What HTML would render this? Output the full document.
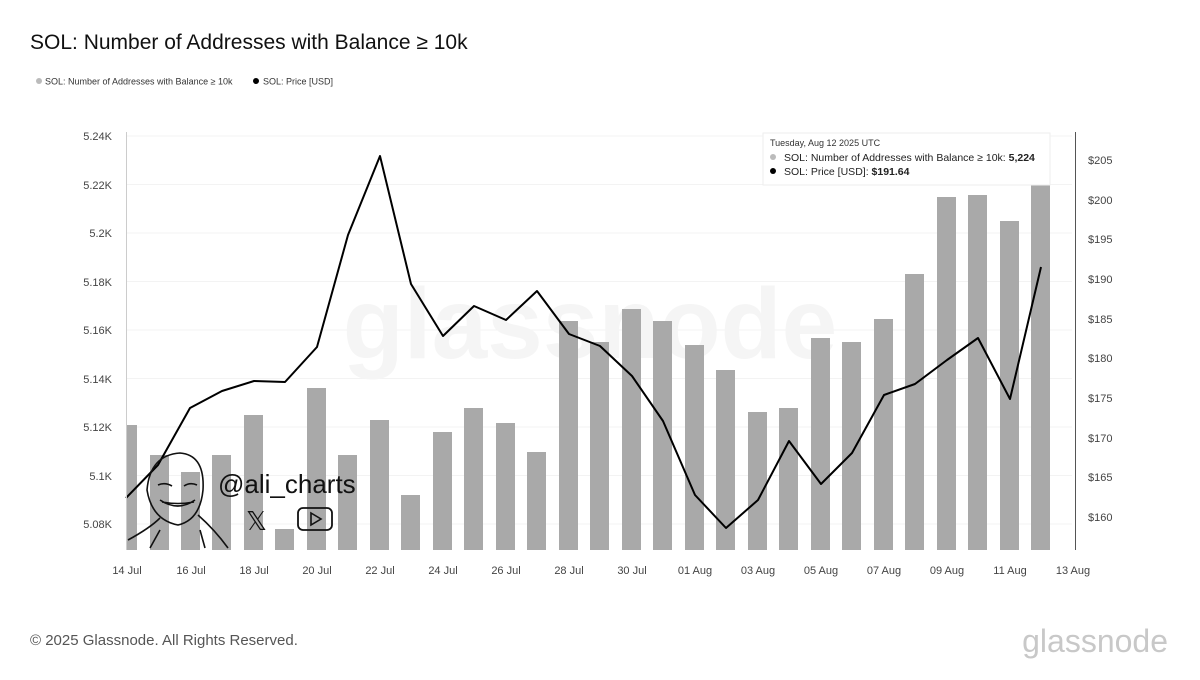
<!DOCTYPE html>
<html><head><meta charset="utf-8"><style>
body{margin:0;background:#fff;width:1200px;height:675px;overflow:hidden;font-family:"Liberation Sans",sans-serif}
</style></head><body>
<svg width="1200" height="675" viewBox="0 0 1200 675" xmlns="http://www.w3.org/2000/svg" font-family="Liberation Sans, sans-serif">
<rect width="1200" height="675" fill="#fff"/>
<text x="30" y="49" font-size="21" fill="#111">SOL: Number of Addresses with Balance ≥ 10k</text>
<circle cx="39" cy="81" r="3" fill="#bbb"/>
<text x="45" y="84.5" font-size="9" fill="#333">SOL: Number of Addresses with Balance ≥ 10k</text>
<circle cx="256" cy="81" r="3" fill="#000"/>
<text x="263" y="84.5" font-size="9" fill="#333">SOL: Price [USD]</text>
<g stroke="#f3f3f3" stroke-width="1">
<line x1="127" x2="1072" y1="136" y2="136"/><line x1="127" x2="1072" y1="184.5" y2="184.5"/>
<line x1="127" x2="1072" y1="233" y2="233"/><line x1="127" x2="1072" y1="281.5" y2="281.5"/>
<line x1="127" x2="1072" y1="330" y2="330"/><line x1="127" x2="1072" y1="378.5" y2="378.5"/>
<line x1="127" x2="1072" y1="427" y2="427"/><line x1="127" x2="1072" y1="475.5" y2="475.5"/>
<line x1="127" x2="1072" y1="524" y2="524"/>
</g>
<text x="590" y="358" font-size="100" font-weight="bold" fill="#f5f5f5" text-anchor="middle">glassnode</text>
<g fill="#a9a9a9">
<rect x="126" y="425" width="11" height="125"/>
<rect x="150" y="455" width="19" height="95"/>
<rect x="181" y="472" width="19" height="78"/>
<rect x="212" y="455" width="19" height="95"/>
<rect x="244" y="415" width="19" height="135"/>
<rect x="275" y="529" width="19" height="21"/>
<rect x="307" y="388" width="19" height="162"/>
<rect x="338" y="455" width="19" height="95"/>
<rect x="370" y="420" width="19" height="130"/>
<rect x="401" y="495" width="19" height="55"/>
<rect x="433" y="432" width="19" height="118"/>
<rect x="464" y="408" width="19" height="142"/>
<rect x="496" y="423" width="19" height="127"/>
<rect x="527" y="452" width="19" height="98"/>
<rect x="559" y="321" width="19" height="229"/>
<rect x="590" y="342" width="19" height="208"/>
<rect x="622" y="309" width="19" height="241"/>
<rect x="653" y="321" width="19" height="229"/>
<rect x="685" y="345" width="19" height="205"/>
<rect x="716" y="370" width="19" height="180"/>
<rect x="748" y="412" width="19" height="138"/>
<rect x="779" y="408" width="19" height="142"/>
<rect x="811" y="338" width="19" height="212"/>
<rect x="842" y="342" width="19" height="208"/>
<rect x="874" y="319" width="19" height="231"/>
<rect x="905" y="274" width="19" height="276"/>
<rect x="937" y="197" width="19" height="353"/>
<rect x="968" y="195" width="19" height="355"/>
<rect x="1000" y="221" width="19" height="329"/>
<rect x="1031" y="176" width="19" height="374"/>
</g>
<polyline fill="none" stroke="#000" stroke-width="2" stroke-linejoin="round" points="126,498 158,465 190,408 222,391 254,381 285,382 317,347 348,235 380,156 411,284 443,336 474,306 506,320 537,291 569,334 600,346 632,376 663,421 695,495 726,528 758,500 789,441 821,484 852,453 884,395 915,384 947,360 978,338 1010,399 1041,267"/>
<line x1="126.5" y1="132" x2="126.5" y2="550" stroke="#ccc"/>
<line x1="1075.5" y1="132" x2="1075.5" y2="550" stroke="#555"/>
<g font-size="11" fill="#444" text-anchor="end">
<text x="112" y="140">5.24K</text><text x="112" y="189">5.22K</text><text x="112" y="237">5.2K</text>
<text x="112" y="286">5.18K</text><text x="112" y="334">5.16K</text><text x="112" y="383">5.14K</text>
<text x="112" y="431">5.12K</text><text x="112" y="480">5.1K</text><text x="112" y="528">5.08K</text>
</g>
<g font-size="11" fill="#444">
<text x="1088" y="164">$205</text><text x="1088" y="204">$200</text><text x="1088" y="243">$195</text>
<text x="1088" y="283">$190</text><text x="1088" y="323">$185</text><text x="1088" y="362">$180</text>
<text x="1088" y="402">$175</text><text x="1088" y="442">$170</text><text x="1088" y="481">$165</text>
<text x="1088" y="521">$160</text>
</g>
<g font-size="11" fill="#444" text-anchor="middle">
<text x="127" y="574">14 Jul</text><text x="191" y="574">16 Jul</text><text x="254" y="574">18 Jul</text>
<text x="317" y="574">20 Jul</text><text x="380" y="574">22 Jul</text><text x="443" y="574">24 Jul</text>
<text x="506" y="574">26 Jul</text><text x="569" y="574">28 Jul</text><text x="632" y="574">30 Jul</text>
<text x="695" y="574">01 Aug</text><text x="758" y="574">03 Aug</text><text x="821" y="574">05 Aug</text>
<text x="884" y="574">07 Aug</text><text x="947" y="574">09 Aug</text><text x="1010" y="574">11 Aug</text>
<text x="1073" y="574">13 Aug</text>
</g>
<rect x="763" y="133" width="287" height="52" fill="#fff" stroke="#eee"/>
<text x="770" y="146" font-size="9" fill="#333">Tuesday, Aug 12 2025 UTC</text>
<circle cx="773" cy="157" r="3" fill="#bbb"/>
<text x="784" y="161" font-size="10.5" fill="#222">SOL: Number of Addresses with Balance ≥ 10k: <tspan font-weight="bold">5,224</tspan></text>
<circle cx="773" cy="171" r="3" fill="#000"/>
<text x="784" y="175" font-size="10.5" fill="#222">SOL: Price [USD]: <tspan font-weight="bold">$191.64</tspan></text>
<g fill="none" stroke="#111" stroke-width="1.6">
<path d="M147,490 Q150,455 180,453 Q205,455 203,490 Q200,520 178,525 Q152,520 147,490 Z"/>
<path d="M158,485 Q165,482 172,486 M184,486 Q190,482 197,485"/>
<path d="M160,500 Q178,512 195,500 M162,502 Q178,505 194,502"/>
<path d="M128,540 Q150,528 160,518 M198,515 Q215,530 228,548 M150,548 L160,530 M200,530 L205,548"/>
</g>
<text x="218" y="493" font-size="26" fill="#111">@ali_charts</text>
<text x="246" y="530" font-size="26" fill="#111">𝕏</text>
<rect x="298" y="508" width="34" height="22" rx="5" fill="none" stroke="#111" stroke-width="1.8"/>
<path d="M311,513 L321,519 L311,525 Z" fill="none" stroke="#111" stroke-width="1.6"/>
<text x="30" y="645" font-size="15" fill="#555">© 2025 Glassnode. All Rights Reserved.</text>
<text x="1168" y="652" font-size="32" fill="#c8c8c8" text-anchor="end">glassnode</text>
</svg>
</body></html>
